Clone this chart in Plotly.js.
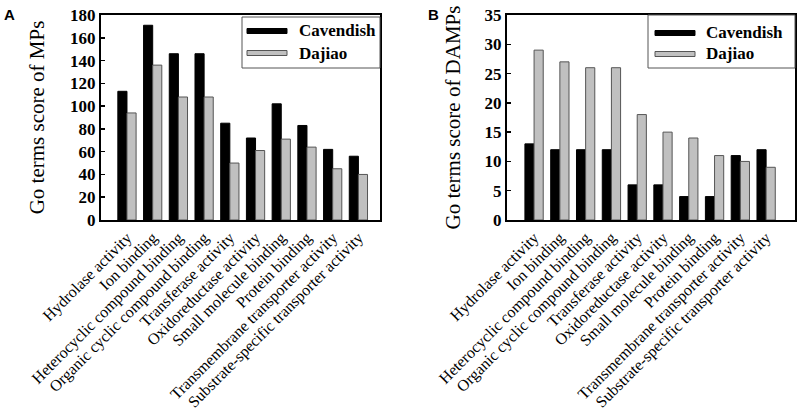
<!DOCTYPE html>
<html>
<head>
<meta charset="utf-8">
<script src="https://cdn.plot.ly/plotly-3.0.1.min.js"></script>
<style>html,body{margin:0;padding:0;background:#fff;}#chart{width:800px;height:420px;}</style>
</head>
<body>
<div id="chart"></div>
<script>
// ---- data ----
const categories = [
  "Hydrolase activity", "Ion binding", "Heterocyclic compound binding",
  "Organic cyclic compound binding", "Transferase activity", "Oxidoreductase activity",
  "Small molecule binding", "Protein binding", "Transmembrane transporter activity",
  "Substrate-specific transporter activity"
];
const seriesNames = ["Cavendish", "Dajiao"];
const mpsCavendish = [113, 171, 146, 146, 85, 72, 102, 83, 62, 56];
const mpsDajiao    = [94, 136, 108, 108, 50, 61, 71, 64, 45, 40];
const dampsCavendish = [13, 12, 12, 12, 6, 6, 4, 4, 11, 12];
const dampsDajiao    = [29, 27, 26, 26, 18, 15, 14, 11, 10, 9];
const yTitleA = "Go terms score of MPs";
const yTitleB = "Go terms score of DAMPs";

// ---- helpers (pixel -> paper, margins are 0) ----
const W = 800, H = 420;
const px = v => v / W;
const py = v => 1 - v / H;

const serif = "Liberation Serif, Times New Roman, serif";
const blackStyle = {color: "#000000", line: {color: "#000000", width: 1}};
const grayStyle  = {color: "#c0c0c0", line: {color: "#555555", width: 1}};

const traces = [
  {type: "bar", x: categories, y: mpsCavendish, name: seriesNames[0], marker: blackStyle, xaxis: "x", yaxis: "y", showlegend: false},
  {type: "bar", x: categories, y: mpsDajiao, name: seriesNames[1], marker: grayStyle, xaxis: "x", yaxis: "y", showlegend: false},
  {type: "bar", x: categories, y: dampsCavendish, name: seriesNames[0], marker: blackStyle, xaxis: "x2", yaxis: "y2", showlegend: false},
  {type: "bar", x: categories, y: dampsDajiao, name: seriesNames[1], marker: grayStyle, xaxis: "x2", yaxis: "y2", showlegend: false}
];

const xBase = {
  type: "category", showgrid: false, zeroline: false, showline: true, mirror: true,
  linecolor: "#000", linewidth: 2, ticks: "", tickangle: -45,
  tickfont: {family: serif, size: 16, color: "#000"}, automargin: false
};
const yBase = {
  showgrid: false, zeroline: false, showline: true, mirror: true,
  linecolor: "#000", linewidth: 2, ticks: "inside", ticklen: 4, tickwidth: 1.5, tickcolor: "#000",
  tickfont: {family: serif, size: 17, color: "#000", weight: "bold"}, automargin: false,
  domain: [py(220), py(15)]
};

const layout = {
  width: W, height: H,
  margin: {l: 0, r: 0, t: 0, b: 0},
  paper_bgcolor: "#fff", plot_bgcolor: "#fff",
  barmode: "group", bargap: 0.29, bargroupgap: 0,
  showlegend: false,
  xaxis: Object.assign({}, xBase, {domain: [px(101), px(380)], range: [-1.01, 9.84], anchor: "y"}),
  yaxis: Object.assign({}, yBase, {range: [0, 180], dtick: 20, anchor: "x",
    title: {text: yTitleA, font: {family: serif, size: 21, color: "#000"}, standoff: 20}}),
  xaxis2: Object.assign({}, xBase, {domain: [px(507), px(795)], range: [-1.05, 10.12], anchor: "y2"}),
  yaxis2: Object.assign({}, yBase, {range: [0, 35], dtick: 5, anchor: "x2",
    title: {text: yTitleB, font: {family: serif, size: 21, color: "#000"}, standoff: 18}}),
  shapes: [],
  annotations: []
};

// custom legends (wide swatches as in the reference)
function addLegend(box, sw, textX, rowY) {
  layout.shapes.push({type: "rect", xref: "paper", yref: "paper",
    x0: px(box[0]), x1: px(box[1]), y0: py(box[3]), y1: py(box[2]),
    line: {color: "#555", width: 1}, fillcolor: "#fff", layer: "above"});
  const styles = [blackStyle, grayStyle];
  seriesNames.forEach((nm, i) => {
    layout.shapes.push({type: "rect", xref: "paper", yref: "paper",
      x0: px(sw[0]), x1: px(sw[1]), y0: py(rowY[i] + 2.5), y1: py(rowY[i] - 2.5),
      line: {color: styles[i].line.color, width: 1}, fillcolor: styles[i].color, layer: "above"});
    layout.annotations.push({xref: "paper", yref: "paper", x: px(textX), y: py(rowY[i]),
      xanchor: "left", yanchor: "middle", showarrow: false, text: nm,
      font: {family: serif, size: 17, color: "#000", weight: "bold"}});
  });
}
addLegend([242, 380, 17, 68], [247, 287], 297, [31, 53]);
addLegend([648, 795, 15, 68], [655, 695], 704, [33, 54]);

// panel letters
[["A", 9], ["B", 433]].forEach(([t, x]) => {
  layout.annotations.push({xref: "paper", yref: "paper", x: px(x), y: py(15),
    xanchor: "center", yanchor: "middle", showarrow: false, text: t,
    font: {family: "Liberation Sans, Arial, sans-serif", size: 15, color: "#000", weight: "bold"}});
});

Plotly.newPlot("chart", traces, layout, {displayModeBar: false, staticPlot: true});
</script>
</body>
</html>
